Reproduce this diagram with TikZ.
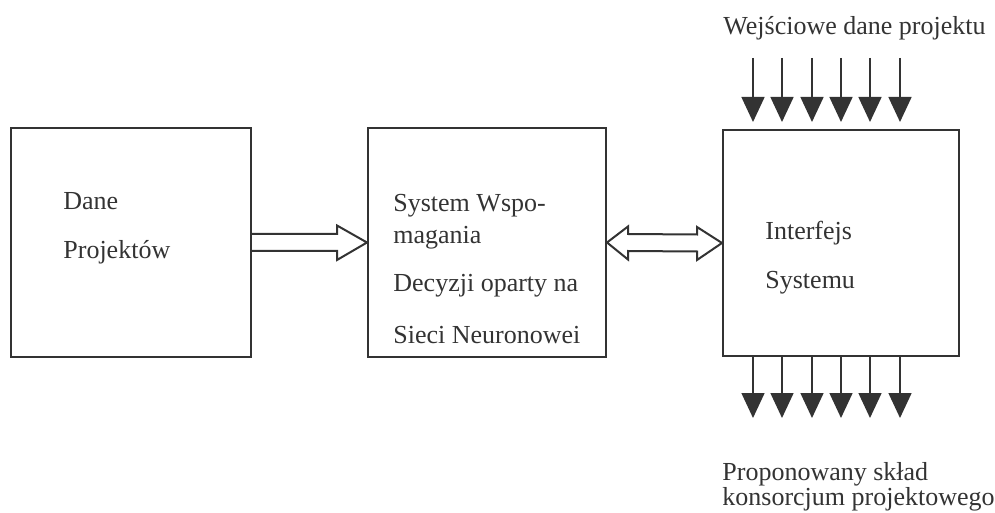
\documentclass[tikz,border=0pt]{standalone}
\usepackage{fontspec}
\setmainfont{Liberation Serif}
\usetikzlibrary{arrows.meta,calc}
\definecolor{ink}{gray}{0.2}
\begin{document}
\begin{tikzpicture}[x=0.5pt,y=-0.5pt,
  every node/.style={font=\fontsize{13}{15}\selectfont, text=ink, inner sep=0pt},
  block/.style={draw=ink, line width=1pt, minimum width=#1, rectangle},
  label/.style={anchor=base west},
  hollow/.style={draw=ink, line width=1pt, line join=miter, fill=white},
  thin/.style={draw=ink, line width=0.75pt, -{Triangle[length=12.5pt,width=11.5pt]}}
]
\useasboundingbox (0,0) rectangle (995,513);

% three blocks
\node[block=120pt, minimum height=114.5pt] (dane)  at (131,242.5) {};
\node[block=119pt, minimum height=114.5pt] (dss)   at (487,242.5) {};
\node[block=118pt, minimum height=113pt]   (iface) at (841,243) {};

% block texts
\node[label] at (63,210) {Dane};
\node[label] at (63,258) {Projektów};
\node[label] at (393,212) {System Wspo-};
\node[label] at (393,243) {magania};
\node[label] at (393,292) {Decyzji oparty na};
\node[label] at (393,343) {Sieci Neuronowei};
\node[label] at (765,240) {Interfejs};
\node[label] at (765,288) {Systemu};

% hollow arrow: data -> decision support system
\draw[hollow] ($(dane.east)+(0,-8.5)$) -- ($(dss.west)+(-30,-8.5)$)
  -- ($(dss.west)+(-30,-17)$) -- (dss.west) -- ($(dss.west)+(-30,17.5)$)
  -- ($(dss.west)+(-30,8.5)$) -- ($(dane.east)+(0,8.5)$);

% hollow double arrow: decision support system <-> interface
\draw[hollow] (dss.east) -- ($(dss.east)+(21,-16)$) -- ($(dss.east)+(21,-8.5)$)
  -- ($(iface.west)+(-25,-8.5)$) -- ($(iface.west)+(-25,-16)$) -- (iface.west)
  -- ($(iface.west)+(-25,17)$) -- ($(iface.west)+(-25,8.5)$)
  -- ($(dss.east)+(21,8.5)$) -- ($(dss.east)+(21,17)$) -- cycle;

% input and output arrows of the interface
\foreach \i/\x in {1/753,2/782,3/812,4/841,5/870,6/900}{
  \coordinate (in\i) at (\x,58);
  \coordinate (out\i) at (\x,418);
  \draw[thin, shorten >=3.5pt] (in\i) -- (in\i |- iface.north);
  \draw[thin] (out\i |- iface.south) -- (out\i);
}

% captions
\node[label] (intext) at (723,35) {Wejściowe dane projektu};
\node[label] (outtext1) at (722,480) {Proponowany skład};
\node[label] (outtext2) at (722,505) {konsorcjum projektowego};
\end{tikzpicture}
\end{document}
